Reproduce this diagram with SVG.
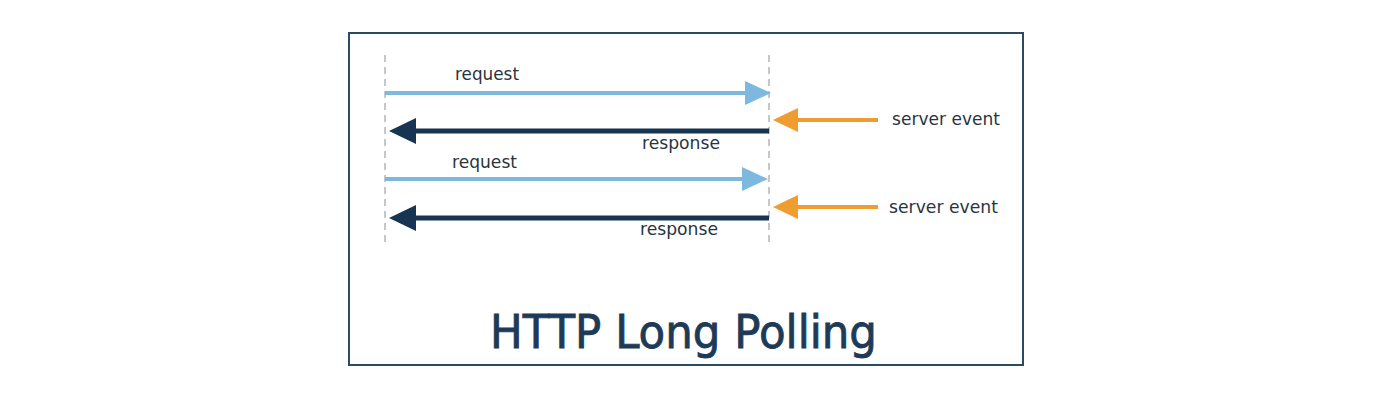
<svg xmlns="http://www.w3.org/2000/svg" width="1378" height="404" viewBox="0 0 1378 404">
<defs>
<style>
.lbl{font-family:"DejaVu Sans","Verdana",sans-serif;font-size:17px;fill:#2a3440}
.title{font-family:"DejaVu Sans","Verdana",sans-serif;font-size:47px;fill:#1e3a56;stroke:#1e3a56;stroke-width:0.9}
.life{stroke:#c4c8cc;stroke-width:2;stroke-dasharray:7,5}
.req{stroke:#7db9de;stroke-width:4}
.resp{stroke:#173553;stroke-width:5}
.evt{stroke:#ef9d30;stroke-width:4}
</style>
</defs>
<rect width="1378" height="404" fill="#ffffff"/>
<rect id="frame" x="349" y="33" width="674" height="332" fill="#ffffff" stroke="#2e4a62" stroke-width="2"/>
<g id="client"><line class="life" x1="385" y1="55" x2="385" y2="242"/></g>
<g id="server"><line class="life" x1="769" y1="55" x2="769" y2="242"/></g>
<g id="connectors">
<line class="req" x1="385" y1="93" x2="748" y2="93"/>
<polygon points="771,93 745,81 745,105" fill="#7db9de"/>
<line class="resp" x1="769" y1="131" x2="412" y2="131"/>
<polygon points="389,131 416,118 416,144" fill="#173553"/>
<line class="req" x1="385" y1="179" x2="745" y2="179"/>
<polygon points="768,179 742,167 742,191" fill="#7db9de"/>
<line class="resp" x1="769" y1="218" x2="412" y2="218"/>
<polygon points="389,218 416,205 416,231" fill="#173553"/>
<line class="evt" x1="878" y1="120" x2="795" y2="120"/>
<polygon points="773,120 798,108 798,132" fill="#ef9d30"/>
<line class="evt" x1="878" y1="207" x2="795" y2="207"/>
<polygon points="773,207 798,195 798,219" fill="#ef9d30"/>
</g>
<g id="labels">
<text class="lbl" x="455" y="80" textLength="64" lengthAdjust="spacingAndGlyphs">request</text>
<text class="lbl" x="642" y="149" textLength="78" lengthAdjust="spacingAndGlyphs">response</text>
<text class="lbl" x="452" y="168" textLength="65" lengthAdjust="spacingAndGlyphs">request</text>
<text class="lbl" x="640" y="235" textLength="78" lengthAdjust="spacingAndGlyphs">response</text>
<text class="lbl" x="892" y="125" textLength="108" lengthAdjust="spacingAndGlyphs">server event</text>
<text class="lbl" x="889" y="213" textLength="109" lengthAdjust="spacingAndGlyphs">server event</text>
</g>
<g id="title"><text class="title" x="490" y="348" textLength="387" lengthAdjust="spacingAndGlyphs">HTTP Long Polling</text></g>
</svg>
